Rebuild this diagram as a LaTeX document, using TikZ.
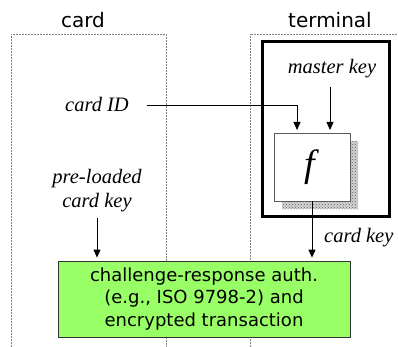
\documentclass[tikz,border=0pt]{standalone}
\usepackage{fontspec}
\setmainfont{Liberation Serif}
\newfontfamily\vfont{DejaVu Sans}
\usetikzlibrary{arrows.meta,calc,patterns}
\definecolor{authgreen}{HTML}{99FF66}
\begin{document}
\begin{tikzpicture}[x=1pt,y=-1pt,
  lbl/.style={font=\fontsize{20.5}{24}\selectfont\itshape, inner sep=0pt, anchor=base},
  ttl/.style={font=\vfont\fontsize{20}{24}\selectfont, inner sep=0pt, anchor=base},
  arr/.style={-{Triangle[width=7pt,length=8pt]}, line width=0.8pt},
  zone/.style={draw=gray, line width=0.6pt, dash pattern=on 0.6pt off 0.9pt}]
\useasboundingbox (0,0) rectangle (398,347);
% zones
\draw[zone] (11,347) -- (11,34) -- (166,34) -- (166,347);
\draw[zone] (250,347) -- (250,34) -- (398,34);
\node[ttl] (cardt) at (83,28) {card};
\node[ttl] (termt) at (330,28) {terminal};
% terminal secure box
\draw[line width=3pt] (262,42) rectangle (389,216.5);
% shadow
\fill[gray!35] (282,141) rectangle (358,209);
\fill[pattern=crosshatch dots, pattern color=gray!80!black] (282,141) rectangle (358,209);
\node[draw=gray!70!black, line width=0.7pt, fill=white, minimum width=76pt, minimum height=68pt, inner sep=0pt] (f) at (312,167) {\fontsize{38}{40}\selectfont\textit{f}};
% labels
\node[lbl] (mk) at (332,74) {master key};
\node[lbl] (cid) at (97,112) {card ID};
\node[lbl, align=center, anchor=south] (pk) at (97,212) {pre-loaded\\card key};
\node[lbl, anchor=base west] (ck) at (324,242) {card key};
% auth box
\node[draw=black!80, line width=0.8pt, fill=authgreen, minimum width=292pt, minimum height=76pt, inner sep=0pt,
  align=center, font=\vfont\fontsize{18}{22.5}\selectfont] (auth) at (204,299)
  {\raisebox{-2pt}{challenge-response auth.}\\\raisebox{-2pt}{(e.g., ISO 9798-2) and}\\\raisebox{-2pt}{encrypted transaction}};
% connectors
\coordinate (cidin) at (297,133);
\coordinate (mkin) at (330,133);
\draw[arr, shorten >=3pt] ([xshift=18pt,yshift=7pt]cid.base east) -| (cidin);
\draw[arr, shorten >=3pt] (mkin |- 0,87) -- (mkin);
\draw[arr, shorten >=3pt] ([yshift=-6pt]pk.south) -- (pk.south |- auth.north);
\draw[arr, shorten >=3pt] (f.south) -- (f.south |- auth.north);
\end{tikzpicture}
\end{document}
